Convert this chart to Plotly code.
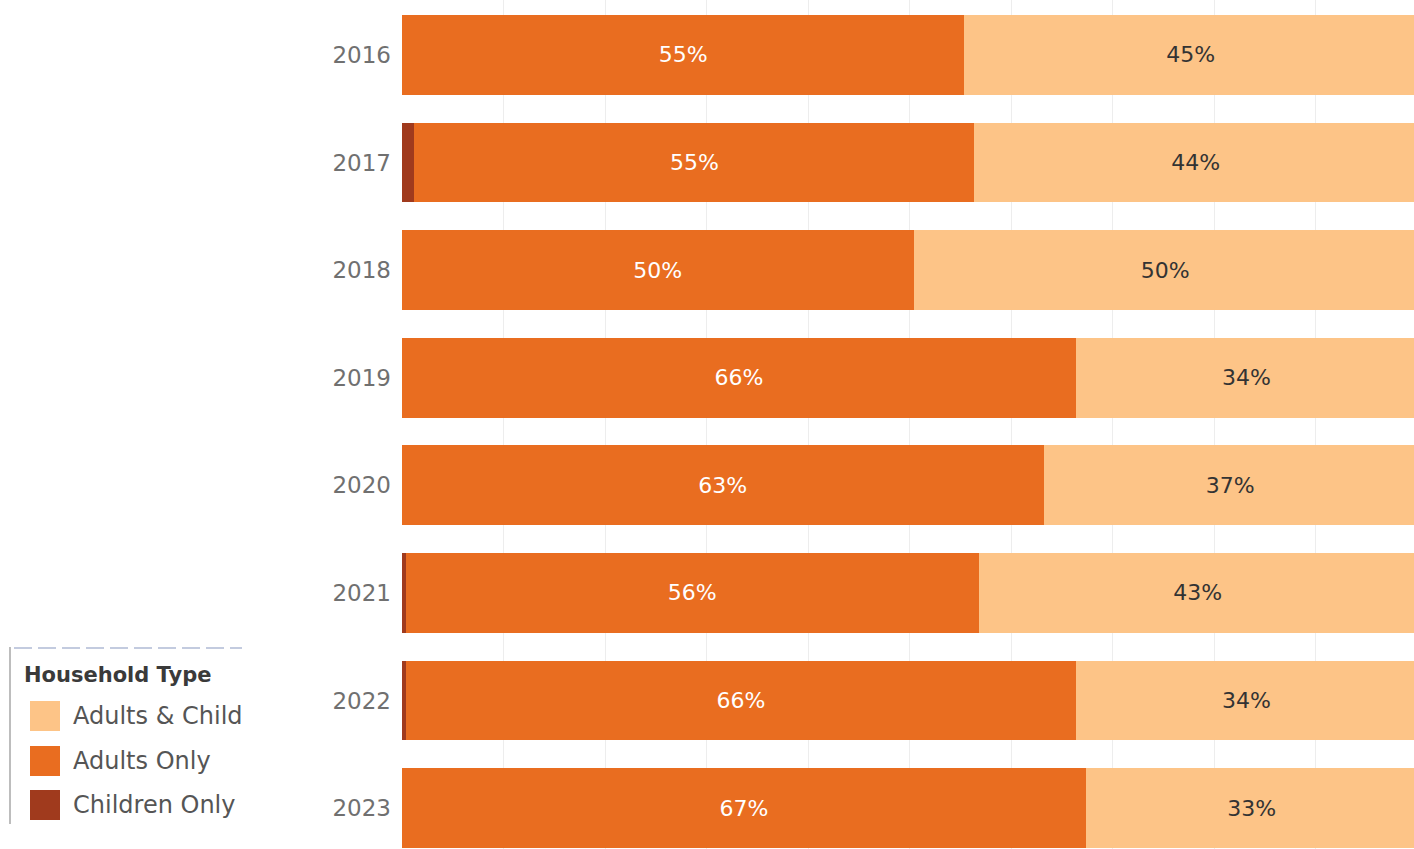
import plotly.graph_objects as go

years = ["2016", "2017", "2018", "2019", "2020", "2021", "2022", "2023"]
children_only = [0.0, 1.2, 0.0, 0.0, 0.0, 0.4, 0.4, 0.0]
adults_only = [55.4, 55.2, 50.4, 66.4, 63.2, 56.4, 66.0, 67.4]
adults_and_child = [44.6, 43.6, 49.6, 33.6, 36.8, 43.2, 33.6, 32.6]

legend_labels = ["Adults & Child", "Adults Only", "Children Only"]
C_LIGHT = "#FDC487"
C_ORANGE = "#E96D20"
C_DARK = "#A03A1D"

W, H = 1414, 849
FONT = "DejaVu Sans"


def px(x):
    return x / W


def py(y):
    return 1 - y / H


fig = go.Figure()
fig.add_trace(go.Bar(
    y=years, x=children_only, orientation="h", name="Children Only",
    marker=dict(color=C_DARK, line_width=0), hoverinfo="skip",
))
fig.add_trace(go.Bar(
    y=years, x=adults_only, orientation="h", name="Adults Only",
    marker=dict(color=C_ORANGE, line_width=0),
    text=[f"{v:.0f}%" for v in adults_only], textposition="inside",
    insidetextanchor="middle", textfont=dict(color="white", size=22, family=FONT),
))
fig.add_trace(go.Bar(
    y=years, x=adults_and_child, orientation="h", name="Adults & Children",
    marker=dict(color=C_LIGHT, line_width=0),
    text=[f"{v:.0f}%" for v in adults_and_child], textposition="inside",
    insidetextanchor="middle", textfont=dict(color="#333333", size=22, family=FONT),
))

# hand-made legend (Tableau style, cropped at the left panel edge)
shapes = [
    dict(type="line", xref="paper", yref="paper", x0=px(10), x1=px(10), y0=py(647), y1=py(824),
         line=dict(color="#BDBDBD", width=2)),
    dict(type="line", xref="paper", yref="paper", x0=px(14), x1=px(242), y0=py(648), y1=py(648),
         line=dict(color="#C3CBDF", width=2, dash="18px,6px")),
]
annotations = [
    dict(text="<b>Household Type</b>", xref="paper", yref="paper", x=px(22), y=py(675),
         xanchor="left", yanchor="middle", showarrow=False,
         font=dict(size=21, color="#3a3a3a", family=FONT)),
]
for label, color, cy in zip(legend_labels, [C_LIGHT, C_ORANGE, C_DARK], [716, 761, 805]):
    shapes.append(dict(type="rect", xref="paper", yref="paper", x0=px(30), x1=px(60),
                       y0=py(cy - 15), y1=py(cy + 15), fillcolor=color, line_width=0))
    annotations.append(dict(text=label, xref="paper", yref="paper", x=px(71), y=py(cy),
                            xanchor="left", yanchor="middle", showarrow=False,
                            font=dict(size=24, color="#555555", family=FONT)))

fig.update_layout(
    barmode="stack",
    bargap=0.26,
    width=W, height=H,
    margin=dict(l=0, r=0, t=0, b=0),
    paper_bgcolor="white", plot_bgcolor="white",
    showlegend=False,
    font=dict(family=FONT),
    uniformtext=dict(mode="show", minsize=10),
    xaxis=dict(domain=[402 / W, 1], range=[0, 99.7], dtick=10, showgrid=True,
               gridcolor="#EDEDED", gridwidth=1, showticklabels=False, zeroline=False,
               showline=False),
    yaxis=dict(type="category", range=[7.38, -0.51], showgrid=False, zeroline=False,
               tickfont=dict(size=23, color="#707070", family=FONT), ticklabelstandoff=10),
    shapes=shapes,
    annotations=annotations,
)

fig.write_html("out.html", config={"displayModeBar": False},
               post_script="document.body.style.margin='0';")
